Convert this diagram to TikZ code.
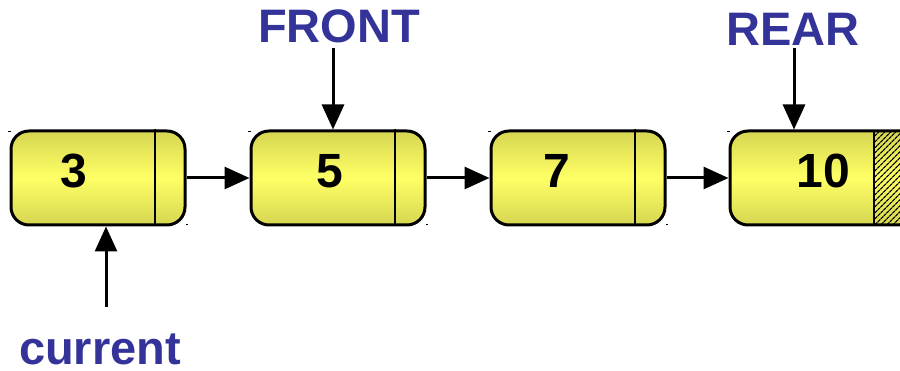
\documentclass[tikz,border=0pt]{standalone}
\usepackage{fontspec}
\setmainfont{Liberation Sans}
\usetikzlibrary{arrows.meta,patterns.meta}
\definecolor{lbl}{RGB}{51,51,153}
\definecolor{yedge}{RGB}{214,214,82}
\definecolor{ymid}{RGB}{255,255,102}
\tikzset{
  cell/.style={draw=black, line width=3pt, rounded corners=18pt, minimum width=174pt, minimum height=94pt,
    top color=yedge, bottom color=yedge, middle color=ymid, inner sep=0pt},
  num/.style={font=\fontsize{48}{48}\selectfont\bfseries, anchor=base, inner sep=0pt},
  lab/.style={font=\fontsize{47}{47}\selectfont\bfseries, text=lbl, anchor=base, inner sep=0pt},
  arr/.style={line width=3pt, -{Triangle[length=25pt,width=22pt]}},
  divider/.style={line width=2pt},
  tick/.style={fill=black}
}
\begin{document}
\begin{tikzpicture}[x=1pt,y=-1pt]
\useasboundingbox (0,0) rectangle (900,371);
\clip (0,0) rectangle (900,371);
% boxes
\node[cell] (b1) at (98,178) {};
\node[cell] (b2) at (338,178) {};
\node[cell] (b3) at (578,178) {};
\node[cell, minimum width=190pt] (b4) at (825,178) {};
% hatched pointer part of last cell
\fill[pattern={Lines[angle=45,distance=4pt,line width=1.3pt]}, pattern color=black] (874,131.5) rectangle (918,224.5);
% dividers
\draw[divider] ([xshift=-32pt]b1.north east) -- ([xshift=-32pt]b1.south east);
\draw[divider] ([xshift=-32pt]b2.north east) -- ([xshift=-32pt]b2.south east);
\draw[divider] ([xshift=-32pt]b3.north east) -- ([xshift=-32pt]b3.south east);
\draw[divider] (874,131) -- (874,225);
% corner ticks
\foreach \b in {b1,b2,b3,b4}{
  \fill[tick] ([shift={(-1.5pt,-1.5pt)}]\b.north west) rectangle ++(2.5,1.2);
}
\foreach \b in {b1,b2,b3}{
  \fill[tick] ([shift={(1.5pt,1.5pt)}]\b.south east) rectangle ++(-2.5,-1.2);
}
% values
\node[num] (v1) at (74,188) {3};
\node[num] (v2) at (330,188) {5};
\node[num] (v3) at (557,188) {7};
\node[num] (v4) at (823,188) {10};
% links
\draw[arr] (b1.east) -- (b2.west);
\draw[arr] (b2.east) -- (b3.west);
\draw[arr] (b3.east) -- (b4.west);
% labels
\node[lab] (front) at (339,43) {FRONT};
\node[lab] (rear) at (793,46) {REAR};
\node[lab] (cur) at (100,365) {current};
\coordinate (ft) at (333,48);
\coordinate (rt) at (794,48);
\coordinate (ct) at (106,307);
\draw[arr] (ft) -- (ft |- b2.north);
\draw[arr] (rt) -- (rt |- b4.north);
\draw[arr] (ct) -- (ct |- b1.south);
\end{tikzpicture}
\end{document}
